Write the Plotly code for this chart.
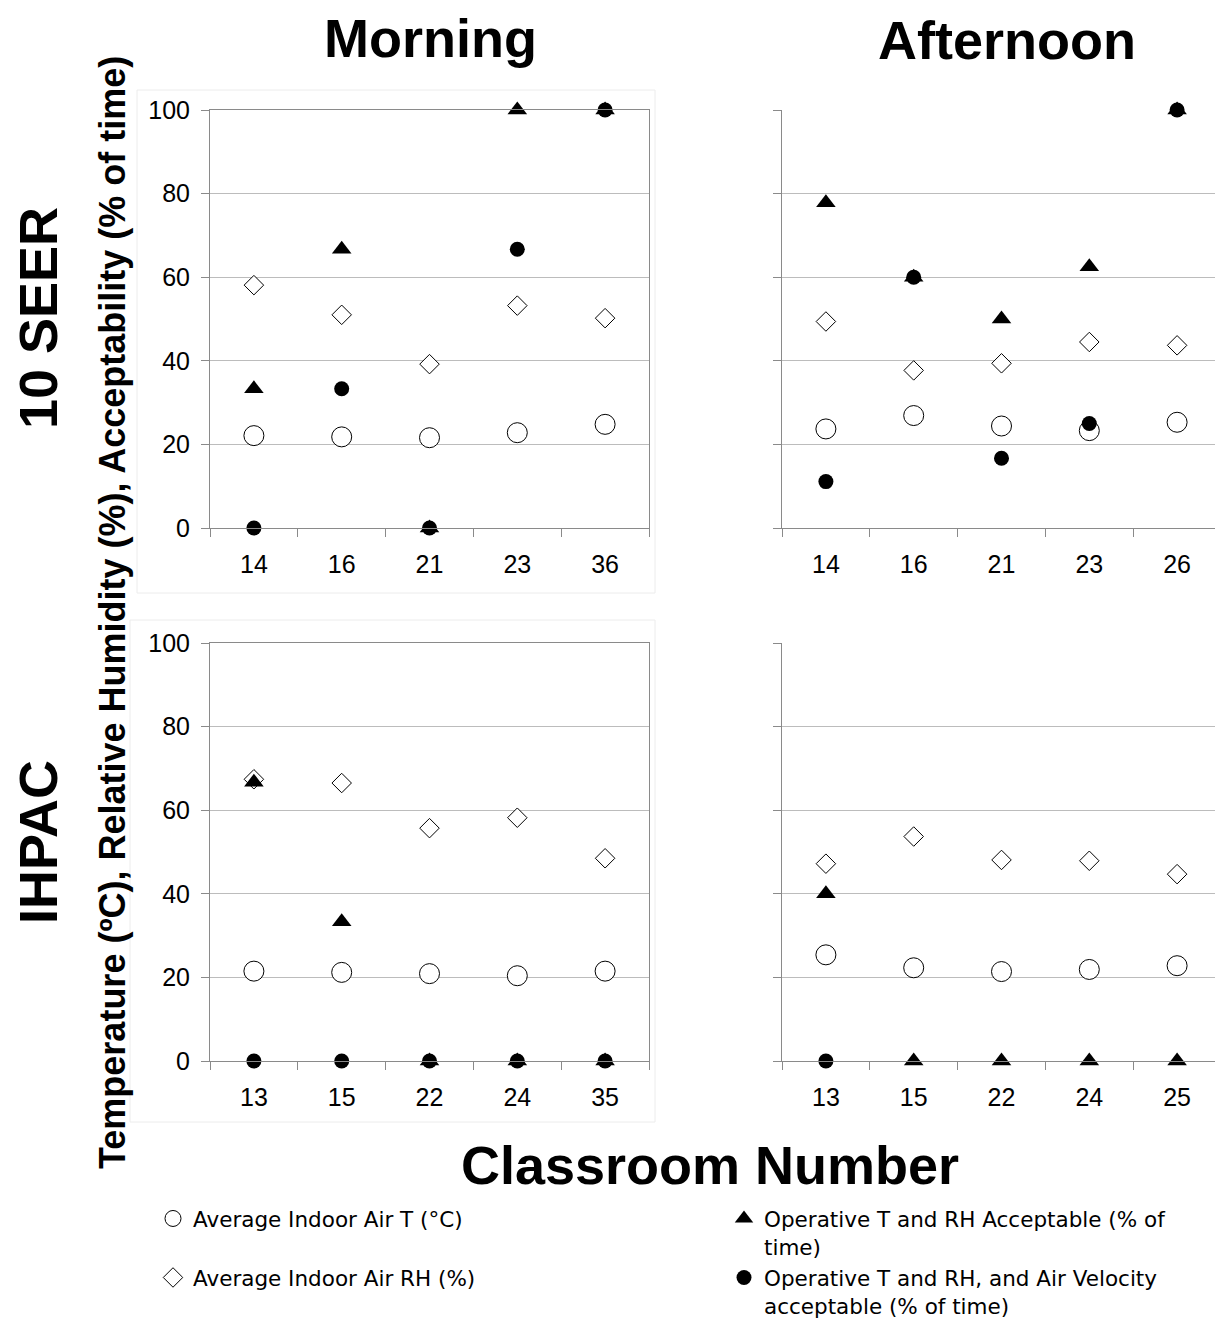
import plotly.graph_objects as go

# Classroom numbers for each panel
rooms_seer_morning = ["14", "16", "21", "23", "36"]
rooms_seer_afternoon = ["14", "16", "21", "23", "26"]
rooms_ihpac_morning = ["13", "15", "22", "24", "35"]
rooms_ihpac_afternoon = ["13", "15", "22", "24", "25"]

# Average indoor air temperature (°C)
temp_seer_morning = [22.1, 21.8, 21.6, 22.8, 24.8]
temp_seer_afternoon = [23.7, 26.9, 24.4, 23.3, 25.3]
temp_ihpac_morning = [21.5, 21.2, 20.9, 20.4, 21.5]
temp_ihpac_afternoon = [25.4, 22.3, 21.4, 21.9, 22.8]

# Average indoor air relative humidity (%)
rh_seer_morning = [58.1, 51.0, 39.2, 53.2, 50.2]
rh_seer_afternoon = [49.4, 37.7, 39.4, 44.5, 43.7]
rh_ihpac_morning = [67.4, 66.5, 55.7, 58.2, 48.5]
rh_ihpac_afternoon = [47.2, 53.7, 48.1, 47.9, 44.7]

# Operative T and RH acceptable (% of time)
ok_seer_morning = [33.3, 66.7, 0, 100, 100]
ok_seer_afternoon = [77.8, 60, 50, 62.5, 100]
ok_ihpac_morning = [66.7, 33.3, 0, 0, 0]
ok_ihpac_afternoon = [40, 0, 0, 0, 0]

# Operative T and RH, and air velocity acceptable (% of time)
okv_seer_morning = [0, 33.3, 0, 66.7, 100]
okv_seer_afternoon = [11.1, 60, 16.7, 25, 100]
okv_ihpac_morning = [0, 0, 0, 0, 0]
okv_ihpac_afternoon = [0, None, None, None, None]

y_ticks = [0, 20, 40, 60, 80, 100]

series_names = [
    "Average Indoor Air T (°C)",
    "Average Indoor Air RH (%)",
    "Operative T and RH Acceptable (% of<br>time)",
    "Operative T and RH, and Air Velocity<br>acceptable (% of time)",
]
# one legend box per key entry, laid out as a 2x2 grid below the panels
series_legend = ["legend", "legend3", "legend2", "legend4"]

panels = [
    (rooms_seer_morning, temp_seer_morning, rh_seer_morning, ok_seer_morning, okv_seer_morning),
    (rooms_seer_afternoon, temp_seer_afternoon, rh_seer_afternoon, ok_seer_afternoon, okv_seer_afternoon),
    (rooms_ihpac_morning, temp_ihpac_morning, rh_ihpac_morning, ok_ihpac_morning, okv_ihpac_morning),
    (rooms_ihpac_afternoon, temp_ihpac_afternoon, rh_ihpac_afternoon, ok_ihpac_afternoon, okv_ihpac_afternoon),
]

W, H = 1215, 1319
AX_FONT = "Liberation Sans, Arial, sans-serif"
LEG_FONT = "DejaVu Sans, Verdana, sans-serif"

styles = [
    dict(symbol="circle", size=20, color="white", line=dict(color="black", width=1)),
    dict(symbol="diamond", size=15, color="white", line=dict(color="black", width=1)),
    dict(symbol="triangle-up", size=17, color="black", line=dict(color="black", width=0)),
    dict(symbol="circle", size=15, color="black", line=dict(color="black", width=0)),
]

fig = go.Figure()

for p, (rooms, temp, rh, ok, okv) in enumerate(panels):
    xa = "x" if p == 0 else f"x{p + 1}"
    ya = "y" if p == 0 else f"y{p + 1}"
    for s, vals in enumerate([temp, rh, ok, okv]):
        fig.add_trace(go.Scatter(
            x=rooms, y=vals, mode="markers", xaxis=xa, yaxis=ya,
            name=series_names[s], legendgroup=f"s{s}", showlegend=(p == 0),
            legend=series_legend[s], marker=styles[s], cliponaxis=False,
        ))

# Panel placement (pixels) -> paper fractions
left_x = (210, 649)
right_x = (782, W)
top_y = (110, 528)
bot_y = (643, 1061)


def xdom(a, b):
    return [a / W, b / W]


def ydom(top, bottom):
    return [(H - bottom) / H, (H - top) / H]


cat_px = (left_x[1] - left_x[0]) / 5.0
right_hi = -0.5 + (right_x[1] - right_x[0]) / cat_px

axis_line = "#8a8a8a"
grid = "#bcbcbc"

layout_axes = {}
for p in range(4):
    is_left = p in (0, 2)
    is_top = p in (0, 1)
    xd = xdom(*left_x) if is_left else xdom(*right_x)
    yd = ydom(*top_y) if is_top else ydom(*bot_y)
    xk = "xaxis" if p == 0 else f"xaxis{p + 1}"
    yk = "yaxis" if p == 0 else f"yaxis{p + 1}"
    ya = "y" if p == 0 else f"y{p + 1}"
    xa = "x" if p == 0 else f"x{p + 1}"
    layout_axes[xk] = dict(
        domain=xd, anchor=ya, type="category",
        range=[-0.5, 4.5 if is_left else right_hi],
        tickson="boundaries", ticks="outside", ticklen=8, tickcolor=axis_line,
        ticklabelstandoff=14,
        showline=True, linecolor=axis_line, linewidth=1, mirror=is_left,
        showgrid=False, zeroline=False,
        tickfont=dict(family=AX_FONT, size=25, color="black"),
        fixedrange=True,
    )
    layout_axes[yk] = dict(
        domain=yd, anchor=xa, range=[0, 100],
        tickvals=y_ticks, ticktext=[str(v) for v in y_ticks],
        ticks="outside", ticklen=8, tickcolor=axis_line,
        ticklabelstandoff=6,
        showticklabels=is_left,
        showline=True, linecolor=axis_line, linewidth=1, mirror=is_left,
        showgrid=True, gridcolor=grid, gridwidth=1, zeroline=False,
        tickfont=dict(family=AX_FONT, size=25, color="black"),
        fixedrange=True,
    )

fig.update_layout(**layout_axes)


def px(x):
    return x / W


def py(y):
    return (H - y) / H


title_font = dict(family=AX_FONT, size=54, color="black")
annotations = [
    dict(text="<b>Morning</b>", x=px(430), y=py(38), font=title_font),
    dict(text="<b>Afternoon</b>", x=px(1007), y=py(40), font=title_font),
    dict(text="<b>10 SEER</b>", x=px(38), y=py(318), textangle=-90, font=title_font),
    dict(text="<b>IHPAC</b>", x=px(38), y=py(842), textangle=-90, font=title_font),
    dict(text="<b>Temperature (ºC), Relative Humidity (%), Acceptability (% of time)</b>",
         x=px(112), y=py(613), textangle=-90,
         font=dict(family=AX_FONT, size=36, color="black")),
    dict(text="<b>Classroom Number</b>", x=px(710), y=py(1165), font=title_font),
]
for a in annotations:
    a.update(xref="paper", yref="paper", xanchor="center", yanchor="middle", showarrow=False)

# faint chart-area frames
frame = "#ececec"
shapes = [
    dict(type="rect", xref="paper", yref="paper", x0=px(137), x1=px(655), y0=py(593), y1=py(90),
         line=dict(color=frame, width=1)),
    dict(type="rect", xref="paper", yref="paper", x0=px(130), x1=px(655), y0=py(1122), y1=py(620),
         line=dict(color=frame, width=1)),
]

legend_common = dict(
    orientation="v", xanchor="left", yanchor="top", valign="top",
    font=dict(family=LEG_FONT, size=21.5, color="black"),
    itemsizing="trace", bgcolor="rgba(0,0,0,0)",
)

fig.update_layout(
    width=W, height=H, autosize=False,
    margin=dict(l=0, r=0, t=0, b=0, autoexpand=False),
    paper_bgcolor="white", plot_bgcolor="white",
    annotations=annotations, shapes=shapes,
    showlegend=True,
    legend=dict(x=px(153), y=py(1198), **legend_common),
    legend2=dict(x=px(724), y=py(1198), **legend_common),
    legend3=dict(x=px(153), y=py(1257), **legend_common),
    legend4=dict(x=px(724), y=py(1257), **legend_common),
)

fig.write_html("out.html")
